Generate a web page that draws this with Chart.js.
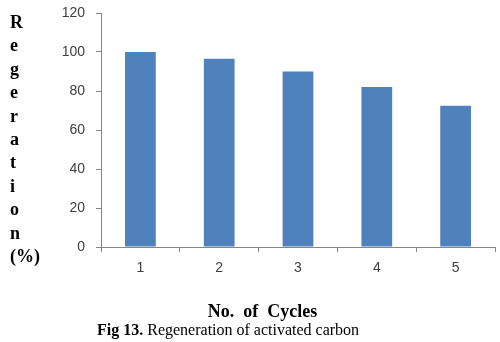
<!DOCTYPE html>
<html>
<head>
<meta charset="utf-8">
<script src="https://cdn.jsdelivr.net/npm/chart.js@4"></script>
<style>
  html, body { margin: 0; padding: 0; background: #fff; }
  #wrap { width: 500px; height: 342px; position: relative; }
</style>
</head>
<body>
<div id="wrap"><canvas id="myChart" width="500" height="342"></canvas></div>
<script>
let cycles = ['1', '2', '3', '4', '5'];
let regeneration = [100, 96.5, 90, 82, 72.5];
let yTicks = [0, 20, 40, 60, 80, 100, 120];

let yTitle = ['R', 'e', 'g', 'e', 'r', 'a', 't', 'i', 'o', 'n', '(%)'];
let xTitle = 'No.  of  Cycles';
let captionBold = 'Fig 13.';
let captionText = ' Regeneration of activated carbon';

let axisColor = '#868686';

// extra text drawn straight on the canvas
let textPlugin = {
    id: 'extraText',
    afterDraw(chart) {
        let ctx = chart.ctx;
        ctx.save();
        ctx.fillStyle = '#000';
        ctx.textBaseline = 'alphabetic';

        ctx.font = 'bold 18px "Liberation Serif"';
        ctx.textAlign = 'left';
        for (let i = 0; i < yTitle.length; i++) {
            ctx.fillText(yTitle[i], 10, 28 + i * 23.4);
        }

        ctx.font = 'bold 18px "Liberation Serif"';
        ctx.textAlign = 'center';
        ctx.fillText(xTitle, 262.5, 317);

        ctx.textAlign = 'left';
        ctx.font = 'bold 16px "Liberation Serif"';
        ctx.fillText(captionBold, 97, 335);
        let w = ctx.measureText(captionBold).width;
        ctx.font = '16px "Liberation Serif"';
        ctx.fillText(captionText, 97 + w, 335);
        ctx.restore();
    }
};

let ctx = document.getElementById('myChart').getContext('2d');
let myChart = new Chart(ctx, {
    type: 'bar',
    data: {
        labels: cycles,
        datasets: [{
            data: regeneration,
            backgroundColor: '#4f81bd',
            borderWidth: 0,
            barPercentage: 0.39,
            categoryPercentage: 1
        }]
    },
    options: {
        responsive: false,
        animation: false,
        layout: {
            padding: { top: 13, right: 5, bottom: 0, left: 0 }
        },
        plugins: {
            legend: { display: false },
            tooltip: { enabled: false }
        },
        scales: {
            x: {
                grid: { drawOnChartArea: false, color: axisColor, tickLength: 5, offset: true },
                border: { color: axisColor },
                ticks: { color: '#404040', font: { family: 'Liberation Sans', size: 14 }, padding: 8 },
                afterFit(scale) {
                    scale.height = 95;
                    scale.paddingLeft = 0;
                    scale.paddingRight = 0;
                }
            },
            y: {
                min: 0,
                max: 120,
                afterBuildTicks(scale) {
                    scale.ticks = yTicks.map(v => ({ value: v }));
                },
                grid: { drawOnChartArea: false, color: axisColor, tickLength: 5 },
                border: { color: axisColor },
                ticks: { color: '#404040', font: { family: 'Liberation Sans', size: 14 }, padding: 11 },
                afterFit(scale) {
                    scale.width = 101;
                    scale.paddingTop = 0;
                    scale.paddingBottom = 0;
                }
            }
        }
    },
    plugins: [textPlugin]
});
</script>
</body>
</html>
